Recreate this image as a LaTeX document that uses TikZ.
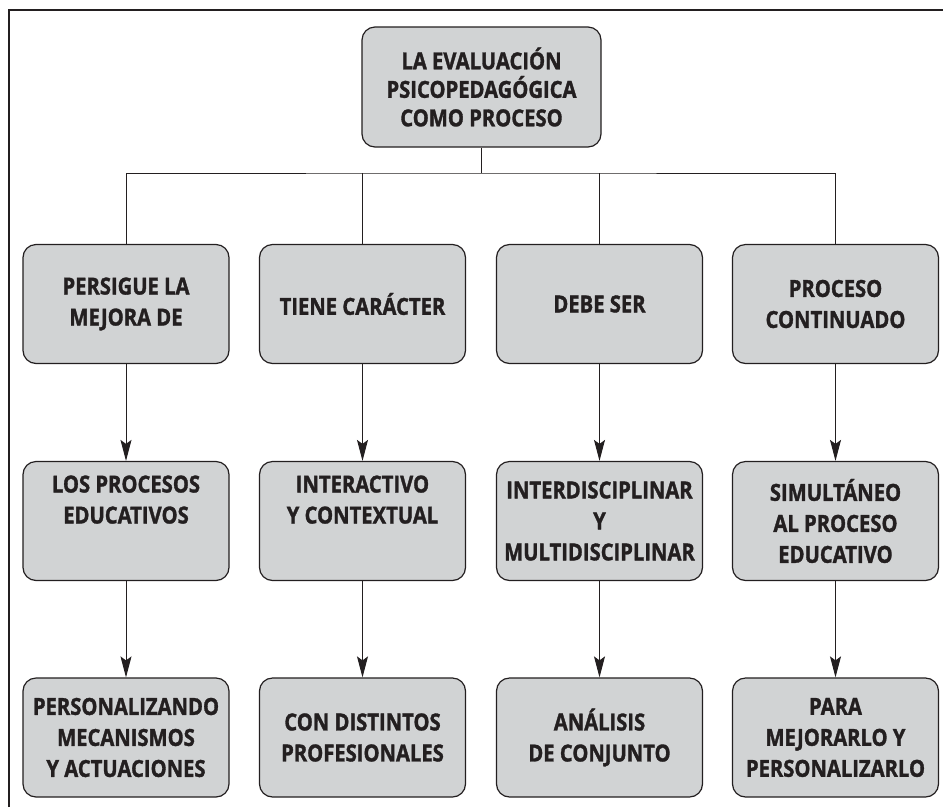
\documentclass[tikz,border=0pt]{standalone}
\usepackage{fontspec}
\setmainfont{Open Sans}[FakeStretch=0.86, BoldFeatures={FakeBold=1.4}]
\usetikzlibrary{arrows.meta,positioning}
\definecolor{boxfill}{HTML}{D1D3D4}
\definecolor{ink}{HTML}{231F20}
\tikzset{
  conceptbox/.style={draw=ink, fill=boxfill, line width=1.2pt, rounded corners=13pt,
    minimum width=206pt, minimum height=119pt, align=center, text=ink,
    font=\fontsize{23.5}{31}\selectfont\bfseries, inner sep=2pt},
  link/.style={draw=ink, line width=1pt},
  arrowlink/.style={link, -{Stealth[length=21pt,width=11pt,inset=4pt]}}
}
\begin{document}
\begin{tikzpicture}[x=1pt,y=-1pt]
\useasboundingbox (0,0) rectangle (943,807);
\fill[white] (0,0) rectangle (943,807);
% frame
\draw[ink, line width=1.1pt] (9,807) -- (9,10) -- (943,10);
% nodes
\node[conceptbox, minimum width=239pt, minimum height=120pt, font=\fontsize{23.5}{28.5}\selectfont\bfseries] (top) at (481.5,87) {LA EVALUACIÓN\\PSICOPEDAGÓGICA\\COMO PROCESO};
\node[conceptbox] (a1) at (126,304) {PERSIGUE LA\\MEJORA DE};
\node[conceptbox] (a2) at (362.5,304) {TIENE CARÁCTER};
\node[conceptbox] (a3) at (599.5,304) {DEBE SER};
\node[conceptbox] (a4) at (835.5,304) {PROCESO\\CONTINUADO};
\node[conceptbox] (b1) at (126,521) {LOS PROCESOS\\EDUCATIVOS\\[12pt]};
\node[conceptbox] (b2) at (362.5,521) {INTERACTIVO\\Y CONTEXTUAL\\[12pt]};
\node[conceptbox] (b3) at (599.5,521) {INTERDISCIPLINAR\\Y\\MULTIDISCIPLINAR};
\node[conceptbox] (b4) at (835.5,521) {SIMULTÁNEO\\AL PROCESO\\EDUCATIVO};
\node[conceptbox] (c1) at (126,737.5) {PERSONALIZANDO\\MECANISMOS\\Y ACTUACIONES};
\node[conceptbox] (c2) at (362.5,737.5) {CON DISTINTOS\\PROFESIONALES};
\node[conceptbox] (c3) at (599.5,737.5) {ANÁLISIS\\DE CONJUNTO};
\node[conceptbox] (c4) at (835.5,737.5) {PARA\\MEJORARLO Y\\PERSONALIZARLO};
% connectors
\coordinate (bus) at (481.5,173);
\draw[link] (top.south) -- (bus);
\draw[link] (a1.north) |- (bus) -| (a4.north);
\draw[link] (a2.north) -- (a2.north |- bus);
\draw[link] (a3.north) -- (a3.north |- bus);
\foreach \i in {1,2,3,4}{
  \draw[arrowlink] (a\i.south) -- (b\i.north);
  \draw[arrowlink] (b\i.south) -- (c\i.north);
}
\end{tikzpicture}
\end{document}
